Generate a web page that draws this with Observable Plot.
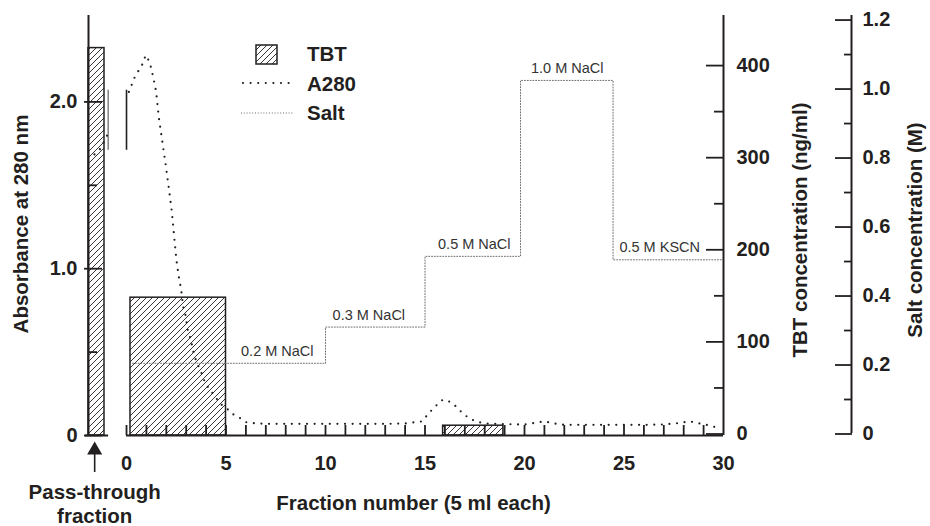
<!DOCTYPE html>
<html><head><meta charset="utf-8">
<script src="https://cdn.jsdelivr.net/npm/d3@7"></script>
<script src="https://cdn.jsdelivr.net/npm/@observablehq/plot@0.6"></script>
<style>
html,body{margin:0;padding:0;background:#fff;}
#wrap{position:relative;width:930px;height:526px;}
#legend{position:absolute;left:0;top:0;pointer-events:none;}
</style></head>
<body><div id="wrap"></div>
<script>
// ---------- data ----------
// TBT bars: fraction start / end and TBT concentration (ng/ml)
const tbtX1 = [-1.91, 0.2, 15.91];
const tbtX2 = [-1.106, 5, 18.94];
const tbtValues = [419, 148, 9];

// A280 absorbance (fraction number, absorbance)
const a280Fraction = [0.12,0.42,0.82,0.96,1.16,1.34,1.49,1.62,1.79,1.96,2.13,2.28,2.38,2.51,2.63,2.75,2.85,2.97,3.08,3.22,3.38,3.55,3.72,3.97,4.22,4.47,4.72,5.06,5.31,5.64,5.98,6.38,7,8,9,10,11,12,13,14,14.86,15.2,15.44,15.7,15.9,16.1,16.28,16.6,16.87,17.2,17.54,18,19,20,20.5,21,21.5,22,23,24,25,26,27,27.8,28.3,28.8,29.3,29.7];
const a280Values   = [2.06,2.15,2.23,2.28,2.24,2.15,2.06,1.91,1.77,1.63,1.48,1.34,1.21,1.05,0.95,0.87,0.77,0.72,0.63,0.58,0.49,0.43,0.39,0.31,0.27,0.23,0.19,0.16,0.13,0.11,0.08,0.074,0.07,0.07,0.07,0.07,0.07,0.07,0.07,0.072,0.085,0.135,0.165,0.195,0.215,0.21,0.2,0.17,0.135,0.105,0.085,0.072,0.068,0.066,0.075,0.085,0.072,0.064,0.064,0.064,0.064,0.064,0.066,0.075,0.085,0.072,0.06,0.046];
// A280 dots visible in the pass-through column
const passA280Fraction = [-1.61, -1.31, -0.97];
const passA280Values = [1.685, 1.72, 1.8];

// Salt step gradient (fraction where the step starts, molarity)
const saltFraction = [0.3, 10, 15, 19.8, 24.45, 30];
const saltValues = [0.205, 0.31, 0.515, 1.025, 0.505, 0.505];
const saltLabels = ["0.2 M NaCl", "0.3 M NaCl", "0.5 M NaCl", "1.0 M NaCl", "0.5 M KSCN"];
const saltLabelFraction = [9.4, 14.0, 19.3, 22.15, 24.77];
const saltLabelValue = [0.205, 0.31, 0.515, 1.025, 0.505];
const saltLabelAnchor = ["end", "end", "end", "middle", "start"];

// Ticks
const xTickLabels = [0, 5, 10, 15, 20, 25, 30];
const xMinorTicks = [0,1,2,3,4,5,6,7,8,9,10,11,12,13,14,15,16,17,18,19,20,21,22,23,24,25,26,27,28,29];
const absTicks = [0, 1, 2];
const absMinor = [0.5, 1.5];
const tbtTicks = [0, 100, 200, 300, 400];
const tbtMinor = [50, 150, 250, 350];
const saltTicks = [0, 0.2, 0.4, 0.6, 0.8, 1.0, 1.2];
const saltMinor = [0.1, 0.3, 0.5, 0.7, 0.9, 1.1];

// Axis breaks / annotations
const xAxisSegments = [[-2.06, -0.9], [0, 30]];
const breakMarkX = [-0.92, 0];
const breakMarkColor = ["#888", "#231f20"];
const breakMarkLow = 1.71, breakMarkHigh = 2.07;
const passThroughX = [-1.6];

// ---------- secondary axes expressed in absorbance units ----------
const TBT_PER_A = 181.1, TBT_ZERO = 0.009;
const A_PER_M = 2.068, SALT_ZERO = 0.009;
const tbtToA = t => TBT_ZERO + t / TBT_PER_A;
const saltToA = m => SALT_ZERO + m * A_PER_M;

const ink = "#231f20";
const FONT = "'Liberation Sans', Arial, Helvetica, sans-serif";

const hatchDefs = () => {
  const defs = d3.create("svg:defs");
  const p = defs.append("pattern").attr("id", "hatch").attr("patternUnits", "userSpaceOnUse")
    .attr("width", 6).attr("height", 6);
  p.append("rect").attr("width", 6).attr("height", 6).attr("fill", "#fff");
  p.append("path").attr("d", "M0,6 L6,0 M-1.5,1.5 L1.5,-1.5 M4.5,7.5 L7.5,4.5")
    .attr("stroke", ink).attr("stroke-width", 0.9);
  return defs.node();
};

const tbtIdx = d3.range(tbtValues.length);
const a280 = a280Fraction.map((x, i) => ({x, y: a280Values[i]}));
const passA280 = passA280Fraction.map((x, i) => ({x, y: passA280Values[i]}));
const salt = saltFraction.map((x, i) => ({x, y: saltToA(saltValues[i])}));
const labels = saltLabels.map((t, i) => ({t, x: saltLabelFraction[i], y: saltToA(saltLabelValue[i]), a: saltLabelAnchor[i]}));

const tickText = {fontSize: 20, fontWeight: "bold", fill: ink, label: null, tickSize: 0};
const titleText = {fontSize: 20.5, fontWeight: "bold", fill: ink, textAnchor: "middle", lineAnchor: "middle"};

const plot = Plot.plot({
  width: 930, height: 526,
  marginLeft: 88, marginRight: 207, marginTop: 18, marginBottom: 91,
  x: {domain: [-1.91, 30]},
  y: {domain: [0, 2.5]},
  style: {fontFamily: FONT, color: ink, background: "#fff", overflow: "visible"},
  marks: [
    hatchDefs,
    // TBT bars
    Plot.rect(tbtIdx, {x1: i => tbtX1[i], x2: i => tbtX2[i], y1: () => 0, y2: i => tbtToA(tbtValues[i]),
      fill: "url(#hatch)", stroke: ink, strokeWidth: 1.5}),
    // salt
    Plot.line(salt, {x: "x", y: "y", curve: "step-after", stroke: "#6f6f6f", strokeWidth: 1, strokeDasharray: "1 1.8"}),
    ...saltLabelAnchor.map((a, i) => Plot.text([labels[i]], {x: "x", y: "y", text: "t", textAnchor: a, dy: -12,
      fontSize: 14.5, fill: "#333"})),
    // break marks
    Plot.ruleX(breakMarkX.map((x, i) => ({x, c: breakMarkColor[i]})), {x: "x", y1: breakMarkLow, y2: breakMarkHigh,
      stroke: d => d.c, strokeWidth: 1.6}),
    // A280 dotted curve
    Plot.line(a280, {x: "x", y: "y", stroke: ink, strokeWidth: 2.2, strokeDasharray: "0 7.6", strokeLinecap: "round"}),
    Plot.line(passA280, {x: "x", y: "y", stroke: ink, strokeWidth: 2.2, strokeDasharray: "0 7.6", strokeLinecap: "round"}),
    // axis lines
    Plot.ruleX([-1.91, 30], {strokeWidth: 2, stroke: ink, insetTop: -3}),
    Plot.ruleX([30], {dx: 128, strokeWidth: 2, stroke: ink, insetTop: -3, insetBottom: 2}),
    Plot.ruleY(xAxisSegments, {y: () => 0, x1: d => d[0], x2: d => d[1], strokeWidth: 2, stroke: ink}),
    // x ticks and labels
    Plot.axisX(xMinorTicks, {anchor: "bottom", text: null, tickSize: 10, dy: -10, strokeWidth: 1.8, stroke: ink, label: null}),
    Plot.axisX(xTickLabels, {anchor: "bottom", tickPadding: 20, ...tickText, tickFormat: d => String(d)}),
    // left absorbance axis
    Plot.axisY(absTicks, {anchor: "left", text: null, tickSize: 18, dx: 14, strokeWidth: 1.8, stroke: ink, label: null}),
    Plot.axisY(absMinor, {anchor: "left", text: null, tickSize: 9, dx: 9, strokeWidth: 1.8, stroke: ink, label: null}),
    Plot.axisY(absTicks, {anchor: "left", tickPadding: 11, ...tickText, tickFormat: d => d === 0 ? "0" : d.toFixed(1)}),
    // TBT axis
    Plot.axisY(tbtTicks.map(tbtToA), {anchor: "right", text: null, tickSize: 18, dx: -18, strokeWidth: 1.8, stroke: ink, label: null}),
    Plot.axisY(tbtMinor.map(tbtToA), {anchor: "right", text: null, tickSize: 10, dx: -10, strokeWidth: 1.8, stroke: ink, label: null}),
    Plot.axisY(tbtTicks.map(tbtToA), {anchor: "right", tickPadding: 13, ...tickText,
      tickFormat: d => String(Math.round((d - TBT_ZERO) * TBT_PER_A))}),
    // salt axis
    Plot.axisY(saltTicks.map(saltToA), {anchor: "right", text: null, tickSize: 17, dx: 111, strokeWidth: 1.8, stroke: ink, label: null}),
    Plot.axisY(saltMinor.map(saltToA), {anchor: "right", text: null, tickSize: 8, dx: 120, strokeWidth: 1.8, stroke: ink, label: null}),
    Plot.axisY(saltTicks.map(saltToA), {anchor: "right", tickPadding: 11, dx: 128, ...tickText,
      tickFormat: d => { const m = Math.round((d - SALT_ZERO) / A_PER_M * 10) / 10; return m === 0 ? "0" : m.toFixed(1); }}),
    // axis titles
    Plot.text(["Absorbance at 280 nm"], {frameAnchor: "left", rotate: -90, dx: -67.5, dy: -3, ...titleText}),
    Plot.text(["TBT concentration (ng/ml)"], {frameAnchor: "right", rotate: -90, dx: 77, dy: 3, ...titleText}),
    Plot.text(["Salt concentration (M)"], {frameAnchor: "right", rotate: -90, dx: 192, dy: 3, ...titleText}),
    Plot.text(["Fraction number (5 ml each)"], {frameAnchor: "bottom", dx: 7.5, dy: 68, ...titleText}),
    // pass-through annotation
    Plot.text(passThroughX, {x: d => d, text: () => "Pass-through\nfraction", frameAnchor: "bottom", dy: 68, lineHeight: 1.13,
      ...titleText}),
    Plot.ruleX(passThroughX, {x: d => d, insetTop: 431, insetBottom: -37, stroke: ink, strokeWidth: 1.6}),
    Plot.dot(passThroughX, {x: d => d, frameAnchor: "bottom", dy: 14.6, symbol: "triangle", r: 5.6, fill: ink, stroke: "none"})
  ]
});
document.getElementById("wrap").appendChild(plot);

// ---------- legend ----------
const legendItems = ["TBT", "A280", "Salt"];
const lg = d3.select("#wrap").append("svg").attr("id", "legend").attr("width", 930).attr("height", 526)
  .style("font-family", FONT);
const ld = lg.append("defs").append("pattern").attr("id", "hatchLegend").attr("patternUnits", "userSpaceOnUse")
  .attr("width", 6).attr("height", 6);
ld.append("rect").attr("width", 6).attr("height", 6).attr("fill", "#fff");
ld.append("path").attr("d", "M0,6 L6,0 M-1.5,1.5 L1.5,-1.5 M4.5,7.5 L7.5,4.5").attr("stroke", ink).attr("stroke-width", 0.9);
lg.append("rect").attr("x", 256).attr("y", 45).attr("width", 21).attr("height", 19)
  .attr("fill", "url(#hatchLegend)").attr("stroke", ink).attr("stroke-width", 1.5);
lg.append("line").attr("x1", 243).attr("x2", 293).attr("y1", 83).attr("y2", 83)
  .attr("stroke", ink).attr("stroke-width", 2.2).attr("stroke-dasharray", "0 7.6").attr("stroke-linecap", "round");
lg.append("line").attr("x1", 241).attr("x2", 294).attr("y1", 113).attr("y2", 113)
  .attr("stroke", "#6f6f6f").attr("stroke-width", 1).attr("stroke-dasharray", "1 1.8");
lg.selectAll("text.lab").data(legendItems).join("text").attr("class", "lab")
  .attr("x", 307).attr("y", (d, i) => 54 + i * 29.5).attr("dy", "0.35em")
  .attr("font-size", 20.5).attr("font-weight", "bold").attr("fill", ink).text(d => d);
</script>
</body></html>
